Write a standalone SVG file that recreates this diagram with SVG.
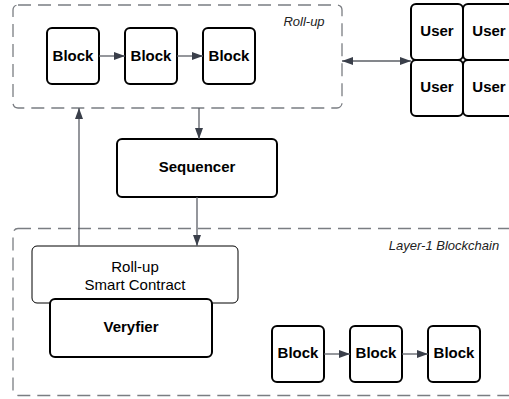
<svg xmlns="http://www.w3.org/2000/svg" width="509" height="399" viewBox="0 0 509 399">
<defs>
<marker id="ah" viewBox="0 0 11 8" refX="11" refY="4" markerWidth="11" markerHeight="8" markerUnits="userSpaceOnUse" orient="auto-start-reverse">
<path d="M0,0 L11,4 L0,8 Z" fill="#3a3f4a"/>
</marker>
</defs>
<style>
.frame{fill:none;stroke:#7a7d82;stroke-width:1.3;stroke-dasharray:13 7}
.node{fill:#fff;stroke:#000;stroke-width:2}
.thin{fill:#fff;stroke:#000;stroke-width:1}
.conn{fill:none;stroke:#5b5f66;stroke-width:1.3}
.b{font-family:"Liberation Sans",Arial,sans-serif;font-weight:bold;font-size:15px;fill:#000;text-anchor:middle;dominant-baseline:central}
.n{font-family:"Liberation Sans",Arial,sans-serif;font-size:15px;fill:#000;text-anchor:middle;dominant-baseline:central}
.it{font-family:"Liberation Sans",Arial,sans-serif;font-style:italic;font-size:13px;fill:#222;text-anchor:middle;dominant-baseline:central}
</style>
<g id="rollup-frame">
<rect class="frame" x="13" y="5" width="329" height="103" rx="5"/>
<text class="it" x="304" y="21">Roll-up</text>
</g>
<g id="l1-frame">
<rect class="frame" x="13" y="228.5" width="510" height="167" rx="5"/>
<text class="it" x="444" y="245">Layer-1 Blockchain</text>
</g>
<g id="r-block1"><rect class="node" x="47" y="28" width="52" height="56" rx="5"/><text class="b" x="73" y="55">Block</text></g>
<g id="r-block2"><rect class="node" x="125" y="28" width="52" height="56" rx="5"/><text class="b" x="151" y="55">Block</text></g>
<g id="r-block3"><rect class="node" x="203" y="28" width="52" height="56" rx="5"/><text class="b" x="229" y="55">Block</text></g>
<g id="user1"><rect class="node" x="411" y="4" width="52" height="56" rx="5"/><text class="b" x="437" y="30">User</text></g>
<g id="user2"><rect class="node" x="463" y="4" width="52" height="56" rx="5"/><text class="b" x="489" y="30">User</text></g>
<g id="user3"><rect class="node" x="411" y="60" width="52" height="56" rx="5"/><text class="b" x="437" y="86">User</text></g>
<g id="user4"><rect class="node" x="463" y="60" width="52" height="56" rx="5"/><text class="b" x="489" y="86">User</text></g>
<g id="sequencer"><rect class="node" x="117" y="139" width="160" height="58" rx="5"/><text class="b" x="197" y="166">Sequencer</text></g>
<g id="smart-contract"><rect class="thin" x="32" y="246" width="206" height="57" rx="5"/><text class="n" x="135" y="266">Roll-up</text><text class="n" x="135" y="284">Smart Contract</text></g>
<g id="veryfier"><rect class="node" x="50" y="299" width="162" height="58" rx="5"/><text class="b" x="131" y="326">Veryfier</text></g>
<g id="l1-block1"><rect class="node" x="272" y="326" width="52" height="56" rx="5"/><text class="b" x="298" y="352">Block</text></g>
<g id="l1-block2"><rect class="node" x="350" y="326" width="52" height="56" rx="5"/><text class="b" x="376" y="352">Block</text></g>
<g id="l1-block3"><rect class="node" x="428" y="326" width="52" height="56" rx="5"/><text class="b" x="454" y="352">Block</text></g>
<g id="connectors">
<line class="conn" x1="99" y1="56" x2="125" y2="56" marker-end="url(#ah)"/>
<line class="conn" x1="177" y1="56" x2="203" y2="56" marker-end="url(#ah)"/>
<line class="conn" x1="342" y1="61" x2="411" y2="61" marker-start="url(#ah)" marker-end="url(#ah)"/>
<line class="conn" x1="199" y1="108" x2="199" y2="139" marker-end="url(#ah)"/>
<line class="conn" x1="197" y1="197" x2="197" y2="246" marker-end="url(#ah)"/>
<line class="conn" x1="79" y1="246" x2="79" y2="108" marker-end="url(#ah)"/>
<line class="conn" x1="324" y1="354" x2="350" y2="354" marker-end="url(#ah)"/>
<line class="conn" x1="402" y1="354" x2="428" y2="354" marker-end="url(#ah)"/>
</g>
</svg>
